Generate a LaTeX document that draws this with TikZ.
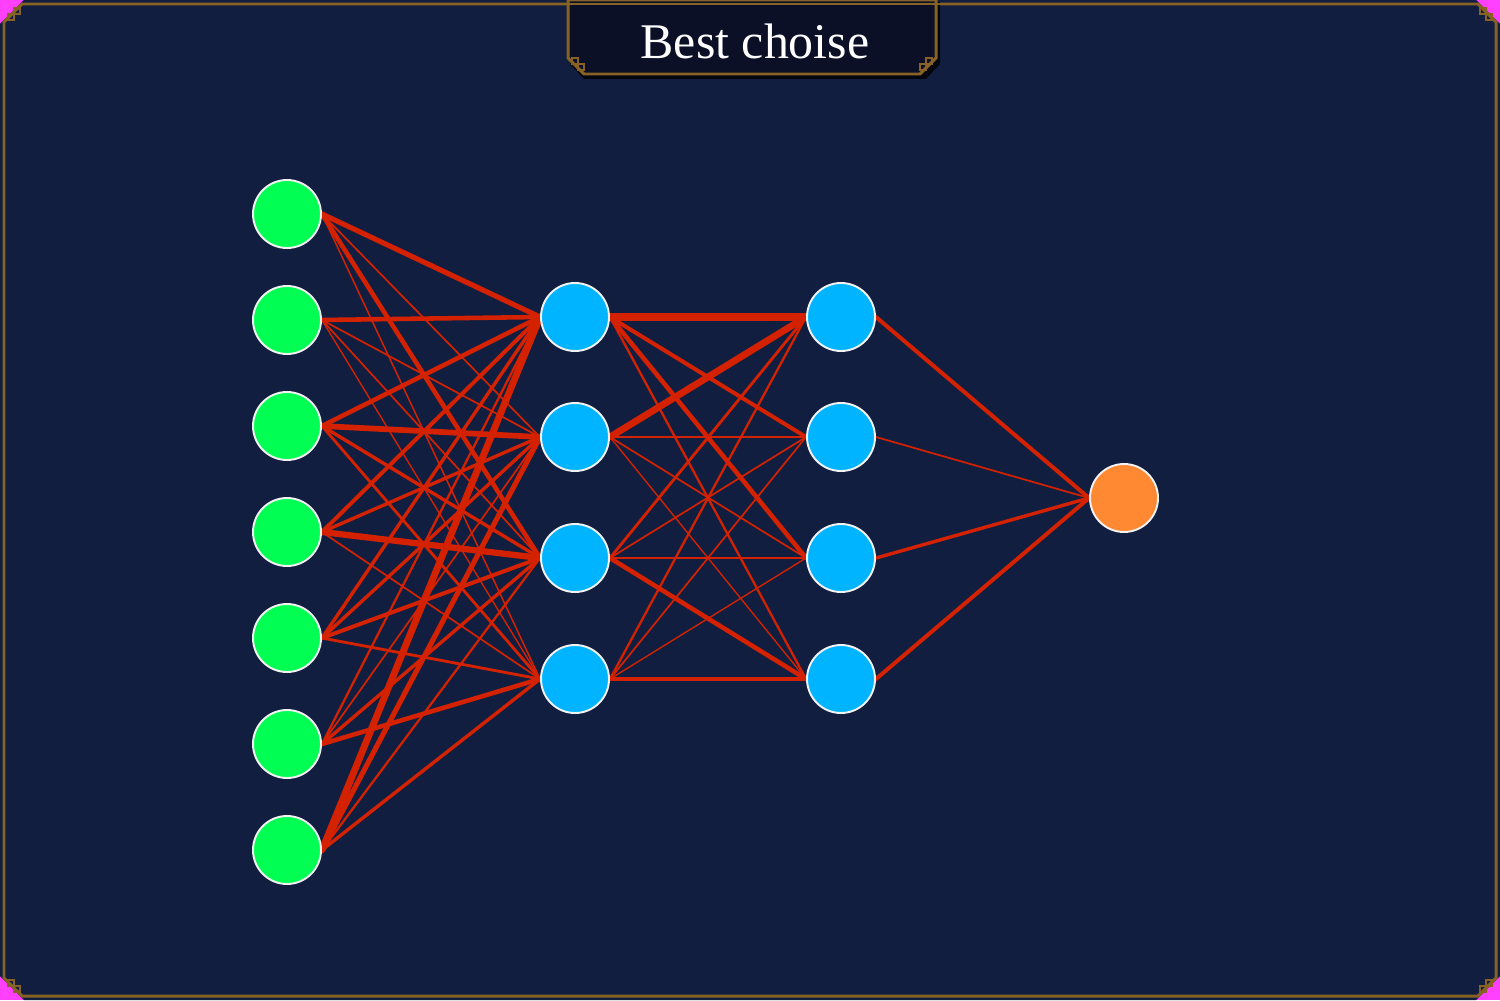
\documentclass[tikz,border=0pt]{standalone}
\usepackage{fontspec}
\setmainfont{Liberation Serif}
\pgfdeclarelayer{bg}
\pgfdeclarelayer{edges}
\pgfsetlayers{bg,edges,main}
\definecolor{bgc}{RGB}{18,30,64}
\definecolor{boxc}{RGB}{11,16,38}
\definecolor{goldc}{RGB}{135,98,36}
\definecolor{magc}{RGB}{255,64,255}
\definecolor{inc}{RGB}{0,255,82}
\definecolor{hidc}{RGB}{0,180,255}
\definecolor{outc}{RGB}{255,136,51}
\definecolor{edgec}{RGB}{212,34,0}
\tikzset{
  neuron/.style={circle, draw=white!90!gray, line width=1.1pt, minimum size=1.36cm, inner sep=0pt},
  inp/.style={neuron, fill=inc},
  hid/.style={neuron, fill=hidc},
  outn/.style={neuron, fill=outc},
  edge/.style={draw=edgec, line cap=round},
  frame/.style={draw=goldc, line width=1.7pt},
}
\begin{document}
\begin{tikzpicture}[x=0.02cm, y=-0.02cm]
\useasboundingbox (0,0) rectangle (1500,1000);
\begin{pgfonlayer}{bg}
\fill[magc] (0,0) rectangle (1500,1000);
\fill[bgc] (24,0) -- (1476,0) -- (1500,24) -- (1500,976) -- (1476,1000) -- (24,1000) -- (0,976) -- (0,24) -- cycle;
\draw[frame] (22,4) -- (1478,4) -- (1496,22) -- (1496,978) -- (1478,996) -- (22,996) -- (4,978) -- (4,22) -- cycle;
% corner ornaments
\foreach \cx/\cy/\sx/\sy in {0/0/1/1, 1500/0/-1/1, 0/1000/1/-1, 1500/1000/-1/-1}{
  \draw[goldc, line width=0.9pt] (\cx+\sx*8,\cy+\sy*14) rectangle ++(\sx*6,\sy*6);
  \draw[goldc, line width=0.9pt] (\cx+\sx*14,\cy+\sy*8) rectangle ++(\sx*6,\sy*6);
}
% title box
\fill[black!60!boxc] (570,2) -- (940,2) -- (940,64) -- (926,79) -- (584,79) -- (570,64) -- cycle;
\filldraw[fill=boxc, frame] (568,0) -- (936,0) -- (936,58) -- (920,74) -- (584,74) -- (568,58) -- cycle;
\draw[goldc, line width=0.9pt] (572,58) rectangle ++(6,6) (578,64) rectangle ++(6,6);
\draw[goldc, line width=0.9pt] (926,58) rectangle ++(6,6) (920,64) rectangle ++(6,6);
\draw[frame] (22,4) -- (1478,4);
\end{pgfonlayer}
\node[text=white, font=\fontsize{28.4}{34}\selectfont, inner sep=0pt] (title) at (755,41) {Best choise};
% neurons
\foreach \n/\y in {1/214,2/320,3/426,4/532,5/638,6/744,7/850}
  \node[inp] (i\n) at (287,\y) {};
\foreach \n/\y in {1/317,2/437,3/558,4/679}{
  \node[hid] (h\n) at (575,\y) {};
  \node[hid] (g\n) at (841,\y) {};
}
\node[outn] (o) at (1124,498) {};
\begin{pgfonlayer}{edges}
\foreach \s/\t/\w in {
  i1/h1/4.5, i1/h2/1.5, i1/h3/4, i1/h4/1.3,
  i2/h1/4, i2/h2/1.5, i2/h3/1.5, i2/h4/1.2,
  i3/h1/4, i3/h2/5, i3/h3/3, i3/h4/2.5,
  i4/h1/3.5, i4/h2/3, i4/h3/5.5, i4/h4/1.5,
  i5/h1/3, i5/h2/3, i5/h3/3.5, i5/h4/2.5,
  i6/h1/2, i6/h2/1.5, i6/h3/3, i6/h4/4,
  i7/h1/6, i7/h2/4.5, i7/h3/2, i7/h4/3,
  h1/g1/6.5, h1/g2/3.5, h1/g3/4, h1/g4/2,
  h2/g1/6, h2/g2/2, h2/g3/1.5, h2/g4/1.2,
  h3/g1/2.5, h3/g2/1.5, h3/g3/2.5, h3/g4/4,
  h4/g1/2, h4/g2/1.5, h4/g3/1.2, h4/g4/4,
  g1/o/3.5, g2/o/1.5, g3/o/3, g4/o/3.5}
  \draw[edge, line width=\w*0.65pt] (\s.east) -- (\t.west);
\end{pgfonlayer}
\end{tikzpicture}
\end{document}
